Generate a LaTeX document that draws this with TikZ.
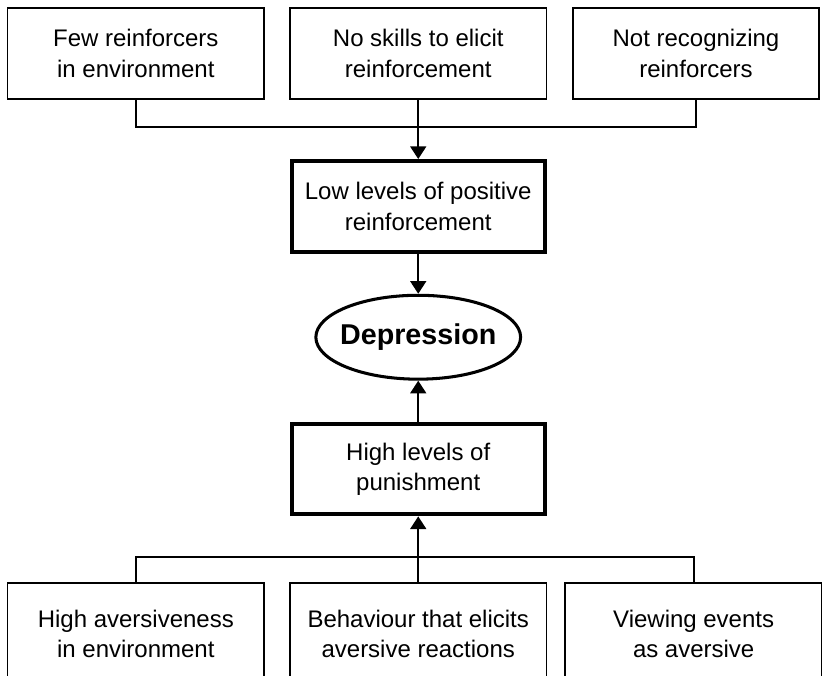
\documentclass[tikz,border=0pt]{standalone}
\usepackage{fontspec}
\setmainfont{Liberation Sans}
\usetikzlibrary{shapes.geometric, arrows.meta, positioning}

\begin{document}
\begin{tikzpicture}[
    node distance=1.2cm,
    every node/.style={font=\fontsize{20.5}{26}\selectfont},
    box/.style={rectangle, draw, line width=1.5pt, minimum width=7.71cm, minimum height=2.74cm, align=center},
    mainbox/.style={box, line width=3.6pt, minimum width=7.6cm, minimum height=2.72cm},
    lowbox/.style={box, minimum height=3.05cm},
    state/.style={ellipse, draw, line width=2.6pt, inner xsep=-0.5cm, inner ysep=0pt, minimum width=6.15cm, minimum height=2.52cm, font=\fontsize{24.5}{29}\selectfont\bfseries},
    link/.style={line width=1.5pt},
    arrow/.style={link, -{Triangle[width=0.48cm, length=0.38cm]}}
]
\useasboundingbox (-12.5625,6.2) rectangle (12.1275,-14.085);

\node[mainbox] (low) at (0,0) {Low levels of positive\\reinforcement};
\node[box, above=1.77cm of low] (noskill) {No skills to elicit\\reinforcement};
\node[box, left=0.72cm of noskill] (few) {Few reinforcers\\in environment};
\node[box, minimum width=7.37cm, right=0.75cm of noskill] (notrec) {Not recognizing\\reinforcers};

\node[state, below=of low] (dep) {Depression};
\node[mainbox, below=1.23cm of dep] (punish) {High levels of\\punishment};

\node[lowbox, below=1.98cm of punish] (behav) {Behaviour that elicits\\aversive reactions};
\node[lowbox, left=0.72cm of behav] (highav) {High aversiveness\\in environment};
\node[lowbox, right=0.51cm of behav] (view) {Viewing events\\as aversive};

\coordinate[below=0.81cm of noskill] (topjoin);
\coordinate[above=0.75cm of behav] (lowjoin);

\draw[link] (few.south) |- (topjoin) -| (notrec.south);
\draw[arrow] (noskill.south) -- (low.north);
\draw[arrow] (low) -- (dep);
\draw[arrow] (punish) -- (dep);
\draw[link] (highav.north) |- (lowjoin) -| (view.north);
\draw[arrow] (behav.north) -- (punish.south);
\end{tikzpicture}
\end{document}
